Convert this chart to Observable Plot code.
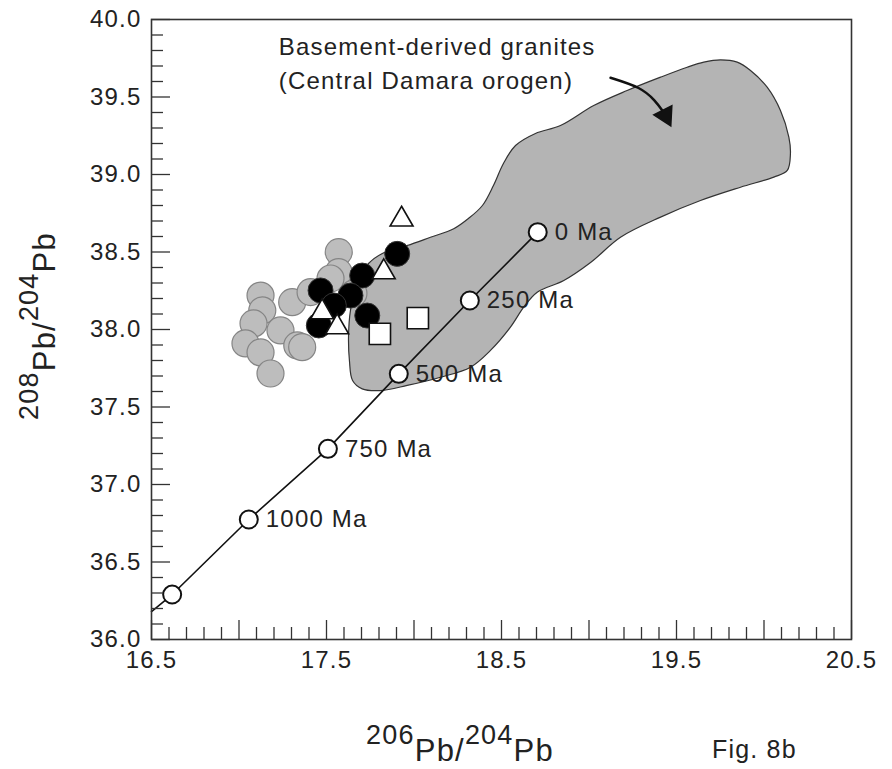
<!DOCTYPE html>
<html><head><meta charset="utf-8">
<script src="https://cdn.jsdelivr.net/npm/d3@7"></script>
<script src="https://cdn.jsdelivr.net/npm/@observablehq/plot@0.6"></script>
<style>
body{margin:0;background:#fff;}
#chart{width:892px;height:769px;}
#chart svg text{letter-spacing:1.2px;}
</style>
</head><body><div id="chart"></div>
<script>
// Pb growth curve (model ages)
const curveAges = ["0 Ma", "250 Ma", "500 Ma", "750 Ma", "1000 Ma", ""];
const curveX = [18.707, 18.319, 17.913, 17.508, 17.056, 16.618];
const curveY = [38.628, 38.187, 37.714, 37.230, 36.774, 36.290];
const curveLineX = [18.707, 18.319, 17.913, 17.508, 17.056, 16.618, 16.5];
const curveLineY = [38.628, 38.187, 37.714, 37.230, 36.774, 36.290, 36.18];

// grey circles
const greyX = [17.570, 17.569, 17.123, 17.133, 17.304, 17.409, 17.083, 17.237, 17.037, 17.123, 17.333, 17.361, 17.180, 17.654, 17.523];
const greyY = [38.499, 38.370, 38.219, 38.123, 38.176, 38.241, 38.039, 37.994, 37.910, 37.852, 37.897, 37.886, 37.716, 38.232, 38.329];
// black circles
const blackX = [17.904, 17.704, 17.466, 17.637, 17.542, 17.456, 17.733];
const blackY = [38.488, 38.348, 38.252, 38.219, 38.155, 38.026, 38.090];
// open triangles
const triX = [17.929, 17.827, 17.475, 17.561];
const triY = [38.710, 38.370, 38.112, 38.015];
// open squares
const sqX = [18.022, 17.805];
const sqY = [38.073, 37.972];

// basement-derived granites field outline
const fieldX = [17.854, 17.961, 18.094, 18.227, 18.311, 18.391, 18.454, 18.511, 18.580, 18.694, 18.837, 19.027, 19.218, 19.409, 19.561, 19.656, 19.751, 19.847, 19.923, 20.018, 20.094, 20.142, 20.151, 20.133, 20.056, 19.866, 19.637, 19.409, 19.180, 19.009, 18.856, 18.704, 18.627, 18.551, 18.437, 18.323, 18.151, 17.961, 17.809, 17.704, 17.649, 17.631, 17.626, 17.637, 17.671, 17.740];
const fieldY = [38.510, 38.542, 38.595, 38.650, 38.716, 38.800, 38.929, 39.071, 39.187, 39.265, 39.316, 39.445, 39.542, 39.628, 39.692, 39.725, 39.740, 39.725, 39.671, 39.563, 39.413, 39.241, 39.134, 39.026, 38.983, 38.918, 38.832, 38.725, 38.595, 38.432, 38.316, 38.241, 38.144, 38.015, 37.865, 37.757, 37.692, 37.639, 37.606, 37.617, 37.671, 37.800, 37.961, 38.123, 38.284, 38.426];

// annotation arrow
const arrowX = [19.123, 19.283, 19.372, 19.420];
const arrowY = [39.624, 39.558, 39.480, 39.412];
const arrowHead = [{x: 19.437, y: 39.381}];

const fieldLabel = ["Basement-derived granites", "(Central Damara orogen)"];
const fieldLabelX = [17.227, 17.227];
const fieldLabelY = [39.82, 39.60];

const xTickLabels = [16.5, 17.5, 18.5, 19.5, 20.5];
const yTickLabels = [36.0, 36.5, 37.0, 37.5, 38.0, 38.5, 39.0, 39.5, 40.0];

const xAll = d3.range(165, 206);
const yAll = d3.range(360, 401);
const xMinor = xAll.filter(v => v % 5 !== 0).map(v => v / 10);
const xMajor = xAll.filter(v => v % 5 === 0).map(v => v / 10);
const yMinor = yAll.filter(v => v % 5 !== 0).map(v => v / 10);
const yMajor = yAll.filter(v => v % 5 === 0).map(v => v / 10);

const field = fieldX.map((x, i) => ({x, y: fieldY[i]}));
const curvePts = curveX.map((x, i) => ({x, y: curveY[i], label: curveAges[i]}));
const curveLine = curveLineX.map((x, i) => ({x, y: curveLineY[i]}));
const grey = greyX.map((x, i) => ({x, y: greyY[i]}));
const black = blackX.map((x, i) => ({x, y: blackY[i]}));
const tri = triX.map((x, i) => ({x, y: triY[i]}));
const sq = sqX.map((x, i) => ({x, y: sqY[i]}));
const arrow = arrowX.map((x, i) => ({x, y: arrowY[i]}));
const labels = fieldLabel.map((t, i) => ({t, x: fieldLabelX[i], y: fieldLabelY[i]}));

const W = 892, H = 769, mL = 151, mR = 41, mT = 19, mB = 130;
const pw = W - mL - mR, ph = H - mT - mB;
const font = "'Liberation Sans', Arial, Helvetica, sans-serif";

const plot = Plot.plot({
  width: W, height: H,
  marginLeft: mL, marginRight: mR, marginTop: mT, marginBottom: mB,
  x: {domain: [16.5, 20.5]},
  y: {domain: [36, 40]},
  style: {fontFamily: font, fontSize: "24px", color: "#222", background: "#fff"},
  marks: [
    Plot.line(field, {x: "x", y: "y", curve: "catmull-rom-closed", fill: "#b4b4b4", stroke: "#333", strokeWidth: 1.2}),
    Plot.line(curveLine, {x: "x", y: "y", stroke: "#111", strokeWidth: 1.6}),
    Plot.dot(curvePts, {x: "x", y: "y", r: 9, fill: "#fff", stroke: "#111", strokeWidth: 2}),
    Plot.text(curvePts, {x: "x", y: "y", text: "label", textAnchor: "start", dx: 17, fontSize: 24, fill: "#222"}),
    Plot.dot(grey, {x: "x", y: "y", r: 13.5, fill: "#bdbdbd", stroke: "#858585", strokeWidth: 1.2}),
    Plot.dot(black, {x: "x", y: "y", r: 12.5, fill: "#000", stroke: "#333", strokeWidth: 1}),
    Plot.dot(tri, {x: "x", y: "y", symbol: "triangle", r: 8.5, fill: "#fff", stroke: "#111", strokeWidth: 1.6}),
    Plot.dot(sq, {x: "x", y: "y", symbol: "square", r: 12, fill: "#fff", stroke: "#111", strokeWidth: 1.6}),
    Plot.line(arrow, {x: "x", y: "y", curve: "natural", stroke: "#111", strokeWidth: 2.5}),
    Plot.dot(arrowHead, {x: "x", y: "y", symbol: "triangle", r: 7.5, rotate: 153, fill: "#111", stroke: "#111"}),
    Plot.text(labels, {x: "x", y: "y", text: "t", textAnchor: "start", fontSize: 24, fill: "#222"}),
    Plot.tickX(xMinor, {x: d => d, stroke: "#333", strokeWidth: 1.3, insetTop: ph - 12}),
    Plot.tickX(xMajor, {x: d => d, stroke: "#333", strokeWidth: 1.3, insetTop: ph - 19}),
    Plot.tickY(yMinor, {y: d => d, stroke: "#333", strokeWidth: 1.3, insetRight: pw - 12}),
    Plot.tickY(yMajor, {y: d => d, stroke: "#333", strokeWidth: 1.3, insetRight: pw - 19}),
    Plot.axisX({ticks: xTickLabels, tickSize: 0, tickPadding: 11, tickFormat: d3.format(".1f"), label: null, fontSize: 24}),
    Plot.axisY({ticks: yTickLabels, tickSize: 0, tickPadding: 10, tickFormat: d3.format(".1f"), label: null, fontSize: 24}),
    Plot.frame({stroke: "#333", strokeWidth: 1.6})
  ]
});

const svg = d3.select(plot);
function pbLabel(sel, a, b) {
  const t = sel.append("text").attr("fill", "#222").attr("font-family", font).attr("text-anchor", "middle");
  t.append("tspan").attr("font-size", 27).attr("dy", -17).text(a);
  t.append("tspan").attr("font-size", 31).attr("dy", 17).text("Pb/");
  t.append("tspan").attr("font-size", 27).attr("dy", -17).text(b);
  t.append("tspan").attr("font-size", 31).attr("dy", 17).text("Pb");
  return t;
}
pbLabel(svg.append("g").attr("transform", "translate(460,761)"), "206", "204");
pbLabel(svg.append("g").attr("transform", "translate(55,326) rotate(-90)"), "208", "204");
svg.append("text").attr("x", 712).attr("y", 758).attr("text-anchor", "start")
  .attr("font-size", 25).attr("font-family", font).attr("fill", "#222").text("Fig. 8b");

document.getElementById("chart").appendChild(plot);
</script>
</body></html>
